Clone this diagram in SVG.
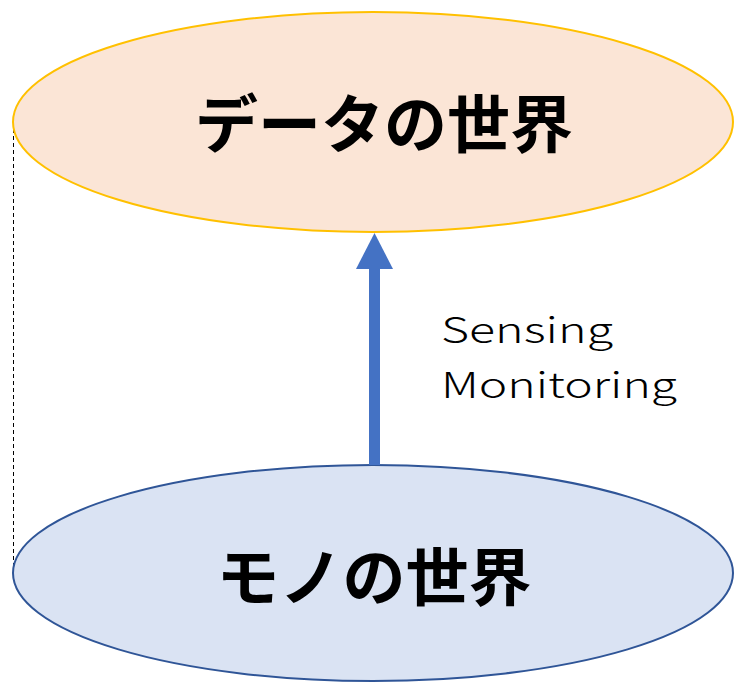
<svg xmlns="http://www.w3.org/2000/svg" width="734" height="684" viewBox="0 0 734 684">
  <style>
    .world-label { font-family: "Noto Sans CJK JP", "Noto Sans", sans-serif; font-weight: bold; font-size: 63px; fill: #000; text-anchor: middle; dominant-baseline: central; }
    .note { font-family: "Noto Sans CJK JP", "Noto Sans", sans-serif; font-weight: 300; font-size: 35px; fill: #000; }
  </style>
  <!-- dashed guide joining the left edges of both worlds -->
  <line x1="13.5" y1="122" x2="13.5" y2="573" stroke="#000" stroke-width="1" stroke-dasharray="4,3"/>

  <g id="data-world">
    <ellipse cx="373" cy="122" rx="360" ry="110" fill="#FBE5D6" stroke="#FFC000" stroke-width="2"/>
    <text class="world-label" x="384" y="119">データの世界</text>
  </g>

  <g id="thing-world">
    <ellipse cx="373" cy="573" rx="360" ry="108" fill="#DAE3F3" stroke="#2F5597" stroke-width="2"/>
    <text class="world-label" x="374" y="572">モノの世界</text>
  </g>

  <g id="connectors">
    <rect x="369" y="266" width="11" height="199" fill="#4472C4"/>
    <polygon points="374.5,233 393,269 356,269" fill="#4472C4"/>
  </g>

  <g id="arrow-label">
    <text class="note" x="441" y="343" textLength="172" lengthAdjust="spacingAndGlyphs">Sensing</text>
    <text class="note" x="441" y="398" textLength="236" lengthAdjust="spacingAndGlyphs">Monitoring</text>
  </g>
</svg>
